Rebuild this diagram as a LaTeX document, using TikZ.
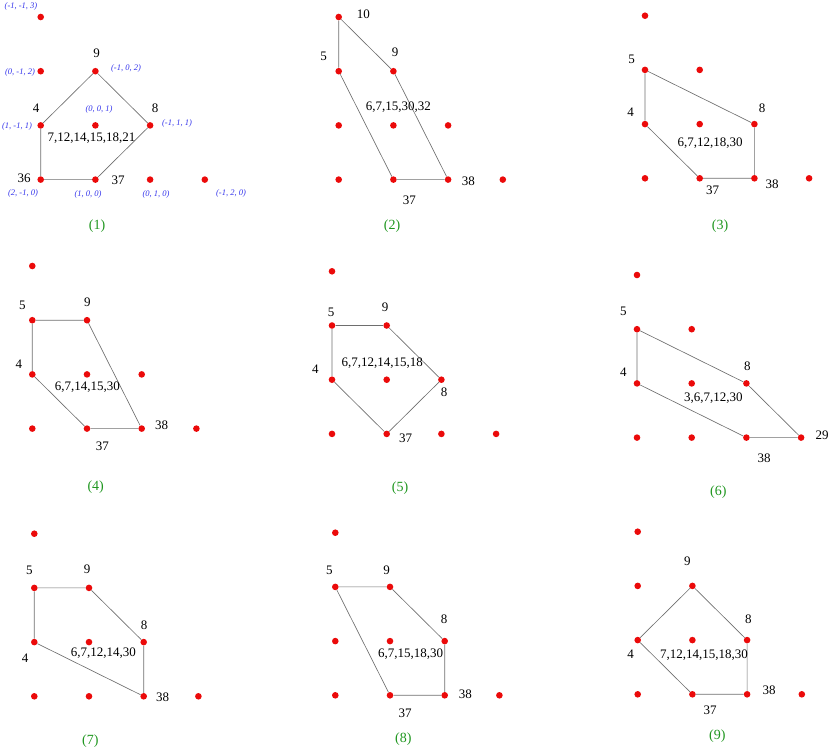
\documentclass[tikz,border=0pt]{standalone}
\usepackage{fontspec}
\setmainfont{Liberation Serif}
\definecolor{dotred}{RGB}{235,10,10}
\definecolor{edgegray}{RGB}{110,110,110}
\definecolor{coordblue}{RGB}{50,50,235}
\definecolor{capgreen}{RGB}{30,150,30}
\tikzset{
  latdot/.style={circle,fill=dotred,draw=none,minimum size=6.6pt,inner sep=0pt},
  polyedge/.style={draw=edgegray,line width=0.65pt},
  numlbl/.style={inner sep=0pt,font=\fontsize{13}{13}\selectfont},
  coordlbl/.style={inner sep=0pt,text=coordblue,font=\fontsize{8.5}{9}\selectfont\itshape},
  captext/.style={inner sep=0pt,text=capgreen,font=\fontsize{14}{14}\selectfont},
}
\newcommand{\latticepts}{%
  \foreach \c/\r in {0/0,0/1,1/1,0/2,1/2,2/2,0/3,1/3,2/3,3/3}
    \node[latdot] (d\c\r) at ({\c*54.7},{\r*54.2}) {};}
\begin{document}
\begin{tikzpicture}[x=1pt,y=-1pt]
\useasboundingbox (0,0) rectangle (830,747);
% ---------- panel 1
\begin{scope}[shift={(40.7,17)},name prefix=A-]
  \latticepts
  \draw[polyedge] (d11) -- (d22) -- (d13) -- (d03) -- (d02) -- (d11);
\end{scope}
\node[numlbl] (A-l9) at (96.7,53) {9};
\node[numlbl] (A-l4) at (36,108) {4};
\node[numlbl] (A-l8) at (155,108) {8};
\node[numlbl] (A-l36) at (24,178) {36};
\node[numlbl] (A-l37) at (118,180) {37};
\node[numlbl] (A-in) at (91.5,138) {7,12,14,15,18,21};
\node[coordlbl] (A-c1) at (21,6) {(-1, -1, 3)};
\node[coordlbl] (A-c2) at (20,72) {(0, -1, 2)};
\node[coordlbl] (A-c3) at (126,68) {(-1, 0, 2)};
\node[coordlbl] (A-c4) at (17,126) {(1, -1, 1)};
\node[coordlbl] (A-c5) at (99,109) {(0, 0, 1)};
\node[coordlbl] (A-c6) at (177,123) {(-1, 1, 1)};
\node[coordlbl] (A-c7) at (23,193) {(2, -1, 0)};
\node[coordlbl] (A-c8) at (88,194) {(1, 0, 0)};
\node[coordlbl] (A-c9) at (156,194) {(0, 1, 0)};
\node[coordlbl] (A-c10) at (231,193) {(-1, 2, 0)};
\node[captext] (A-cap) at (97,226) {(1)};
% ---------- panel 2
\begin{scope}[shift={(338.7,17)},name prefix=B-]
  \latticepts
  \draw[polyedge] (d00) -- (d01) -- (d13) -- (d23) -- (d11) -- (d00);
\end{scope}
\node[numlbl] (B-l10) at (363.3,14) {10};
\node[numlbl] (B-l5) at (323.7,56.7) {5};
\node[numlbl] (B-l9) at (395,52.7) {9};
\node[numlbl] (B-in) at (398.3,107.3) {6,7,15,30,32};
\node[numlbl] (B-l38) at (468.3,181) {38};
\node[numlbl] (B-l37) at (409.3,200.3) {37};
\node[captext] (B-cap) at (392,226) {(2)};
% ---------- panel 3
\begin{scope}[shift={(645,15.7)},name prefix=C-]
  \latticepts
  \draw[polyedge] (d01) -- (d22) -- (d23) -- (d13) -- (d02) -- (d01);
\end{scope}
\node[numlbl] (C-l5) at (631.7,59.3) {5};
\node[numlbl] (C-l4) at (630.7,112.3) {4};
\node[numlbl] (C-l8) at (762,108.3) {8};
\node[numlbl] (C-in) at (710,143.3) {6,7,12,18,30};
\node[numlbl] (C-l37) at (712.7,190.7) {37};
\node[numlbl] (C-l38) at (772,184) {38};
\node[captext] (C-cap) at (720,226) {(3)};
% ---------- panel 4
\begin{scope}[shift={(32.3,266)},name prefix=D-]
  \latticepts
  \draw[polyedge] (d01) -- (d11) -- (d23) -- (d13) -- (d02) -- (d01);
\end{scope}
\node[numlbl] (D-l5) at (22.3,305) {5};
\node[numlbl] (D-l9) at (87.3,302.3) {9};
\node[numlbl] (D-l4) at (19,364) {4};
\node[numlbl] (D-in) at (87.3,387) {6,7,14,15,30};
\node[numlbl] (D-l38) at (161.7,425) {38};
\node[numlbl] (D-l37) at (102.3,446.7) {37};
\node[captext] (D-cap) at (95.7,486.7) {(4)};
% ---------- panel 5
\begin{scope}[shift={(332,271.3)},name prefix=E-]
  \latticepts
  \draw[polyedge] (d01) -- (d11) -- (d22) -- (d13) -- (d02) -- (d01);
\end{scope}
\node[numlbl] (E-l5) at (331,312) {5};
\node[numlbl] (E-l9) at (385,307.7) {9};
\node[numlbl] (E-l4) at (315.3,369) {4};
\node[numlbl] (E-in) at (382.3,363.3) {6,7,12,14,15,18};
\node[numlbl] (E-l8) at (444,392.7) {8};
\node[numlbl] (E-l37) at (405.7,438.7) {37};
\node[captext] (E-cap) at (400,488.3) {(5)};
% ---------- panel 6
\begin{scope}[shift={(637,275)},name prefix=F-]
  \latticepts
  \draw[polyedge] (d01) -- (d22) -- (d33) -- (d23) -- (d02) -- (d01);
\end{scope}
\node[numlbl] (F-l5) at (623.3,311.7) {5};
\node[numlbl] (F-l4) at (623.3,372.7) {4};
\node[numlbl] (F-l8) at (747.3,366.7) {8};
\node[numlbl] (F-in) at (713.3,397.7) {3,6,7,12,30};
\node[numlbl] (F-l29) at (822,435.3) {29};
\node[numlbl] (F-l38) at (764,458.3) {38};
\node[captext] (F-cap) at (718.3,491.7) {(6)};
% ---------- panel 7
\begin{scope}[shift={(34.3,533.7)},name prefix=G-]
  \latticepts
  \draw[polyedge] (d01) -- (d11) -- (d22) -- (d23) -- (d02) -- (d01);
\end{scope}
\node[numlbl] (G-l5) at (29.3,570.7) {5};
\node[numlbl] (G-l9) at (87,569.3) {9};
\node[numlbl] (G-l8) at (144,625.7) {8};
\node[numlbl] (G-l4) at (25,658.3) {4};
\node[numlbl] (G-in) at (103.3,652.7) {6,7,12,14,30};
\node[numlbl] (G-l38) at (162.7,697.7) {38};
\node[captext] (G-cap) at (90.3,741.5) {(7)};
% ---------- panel 8
\begin{scope}[shift={(335.3,532.7)},name prefix=H-]
  \latticepts
  \draw[polyedge] (d01) -- (d11) -- (d22) -- (d23) -- (d13) -- (d01);
\end{scope}
\node[numlbl] (H-l5) at (329.3,570) {5};
\node[numlbl] (H-l9) at (386.7,570) {9};
\node[numlbl] (H-l8) at (444,619.3) {8};
\node[numlbl] (H-in) at (410.7,654) {6,7,15,18,30};
\node[numlbl] (H-l38) at (465.3,694.3) {38};
\node[numlbl] (H-l37) at (405,713.3) {37};
\node[captext] (H-cap) at (403.3,739.3) {(8)};
% ---------- panel 9
\begin{scope}[shift={(637.7,531.7)},name prefix=I-]
  \latticepts
  \draw[polyedge] (d11) -- (d22) -- (d23) -- (d13) -- (d02) -- (d11);
\end{scope}
\node[numlbl] (I-l9) at (687.3,561.7) {9};
\node[numlbl] (I-l8) at (748.3,619.3) {8};
\node[numlbl] (I-l4) at (630.7,654) {4};
\node[numlbl] (I-in) at (704,655) {7,12,14,15,18,30};
\node[numlbl] (I-l38) at (769,690.7) {38};
\node[numlbl] (I-l37) at (710,710) {37};
\node[captext] (I-cap) at (717.3,736) {(9)};
\end{tikzpicture}
\end{document}
